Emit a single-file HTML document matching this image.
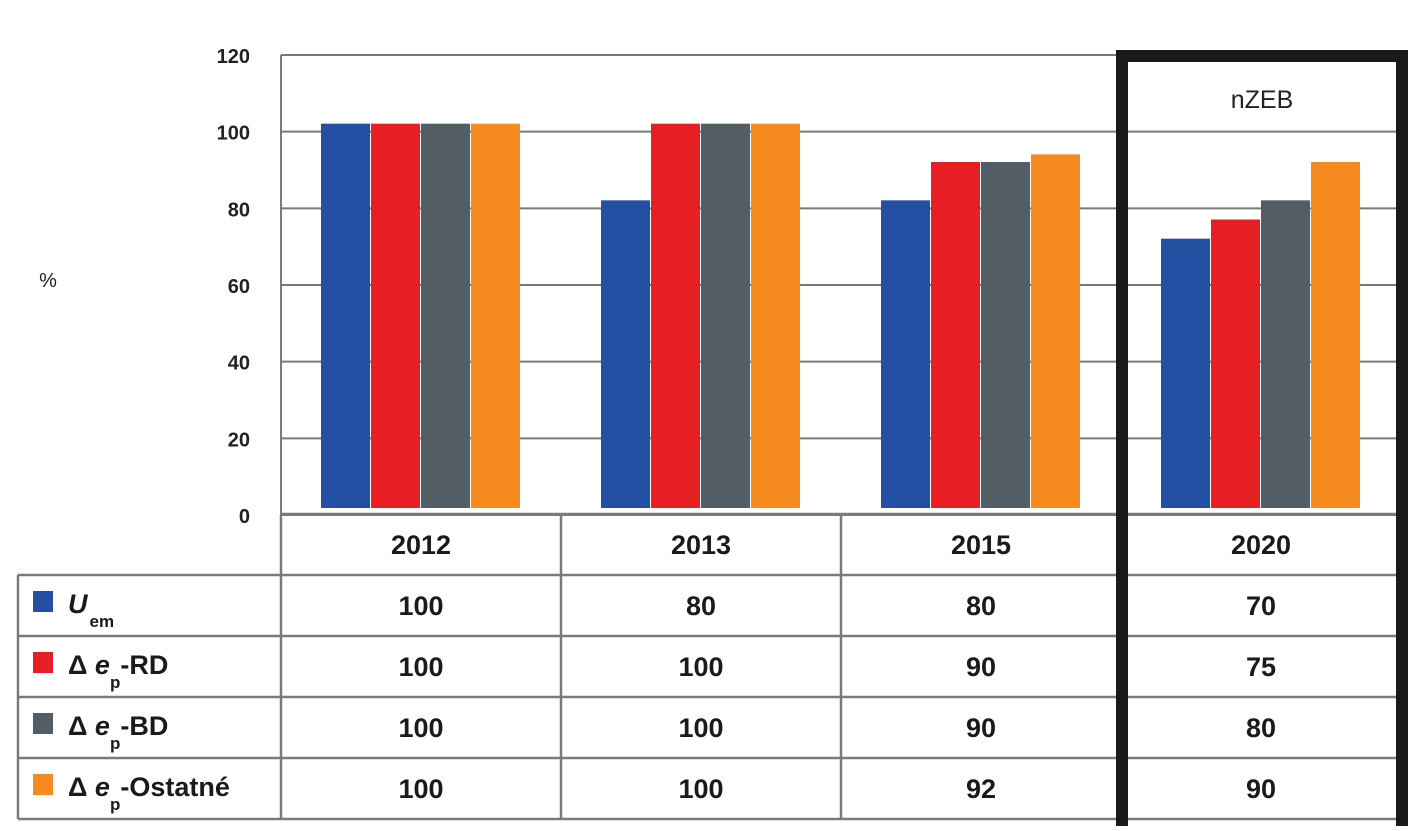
<!DOCTYPE html>
<html><head><meta charset="utf-8"><style>
body{margin:0;background:#fff;font-family:"Liberation Sans",sans-serif}
</style></head><body>
<svg width="1419" height="826" viewBox="0 0 1419 826" xmlns="http://www.w3.org/2000/svg">
<g id="grid"></g>
<g id="bars"></g>
<g id="table"></g>
<text x="48" y="287" font-size="20" text-anchor="middle" fill="#222">%</text>
<text x="1262" y="108" font-size="25" text-anchor="middle" fill="#222">nZEB</text>
<rect x="1122" y="56" width="280" height="776" fill="none" stroke="#1a1a1a" stroke-width="12"/>
</svg>
<script>
const categories=["2012","2013","2015","2020"];
const seriesNames=["Uem","RD","BD","Ostatné"];
const uem=[100,80,80,70];
const rd=[100,100,90,75];
const bd=[100,100,90,80];
const ost=[100,100,92,90];
const ticks=[0,20,40,60,80,100,120];
const NS="http://www.w3.org/2000/svg";
const series=[uem,rd,bd,ost];
const colors=["#2450a4","#e81e25","#525d66","#f58a1f"];
const x0=281,cw=280,y0=515,ppu=460/120;
const y=v=>y0-v*ppu;
function el(t,a,p){const e=document.createElementNS(NS,t);for(const k in a)e.setAttribute(k,a[k]);p.appendChild(e);return e;}
const grid=document.getElementById('grid');
ticks.forEach(t=>{
  const l=el('line',{x1:x0,x2:1400,y1:y(t),y2:y(t),stroke:'#7a7a7a','stroke-width':2},grid);
  
  
  const tx=el('text',{x:250,y:y(t)+8,'font-size':20,'font-weight':'bold','text-anchor':'end',fill:'#222'},grid);
  tx.textContent=t;
  
  
});
el('line',{x1:x0,x2:x0,y1:55,y2:y0,stroke:'#7a7a7a','stroke-width':2},grid);
const bars=document.getElementById('bars');
categories.forEach((c,i)=>{
  const cx=x0+cw*i+cw/2;
  series.forEach((s,j)=>{
    const bx=cx-100+j*50;
    const top=y(s[i])-8;
    const r=el('rect',{x:bx,y:top,width:49,height:508-top,fill:colors[j]},bars);
    
    
  });
});
const tb=document.getElementById('table');
const rows=[514,575,636,697,758,819];
const st={stroke:'#7a7a7a','stroke-width':2.5};
rows.forEach((ry,k)=>{el('line',Object.assign({x1:k==0?x0:18,x2:1400,y1:ry,y2:ry},st),tb);});
el('line',Object.assign({x1:18,x2:18,y1:575,y2:819},st),tb);
for(let i=0;i<=4;i++){el('line',Object.assign({x1:x0+cw*i,x2:x0+cw*i,y1:514,y2:819},st),tb);}
categories.forEach((c,i)=>{
  const t=el('text',{x:x0+cw*i+cw/2,y:554,'font-size':27,'font-weight':'bold','text-anchor':'middle',fill:'#1a1a1a'},tb);
  t.textContent=c;
  
  
  series.forEach((s,j)=>{
    const v=el('text',{x:x0+cw*i+cw/2,y:rows[j+1]+40,'font-size':27,'font-weight':'bold','text-anchor':'middle',fill:'#1a1a1a'},tb);
    v.textContent=s[i];
    
    
  });
});
const labels=[
 '<tspan font-style="italic">U</tspan><tspan font-size="17" dy="14" dx="2">em</tspan>',
 'Δ <tspan font-style="italic">e</tspan><tspan font-size="17" dy="14">p</tspan><tspan dy="-14">-RD</tspan>',
 'Δ <tspan font-style="italic">e</tspan><tspan font-size="17" dy="14">p</tspan><tspan dy="-14">-BD</tspan>',
 'Δ <tspan font-style="italic">e</tspan><tspan font-size="17" dy="14">p</tspan><tspan dy="-14">-Ostatné</tspan>'];
labels.forEach((h,j)=>{
  const sw=el('rect',{x:33,y:rows[j+1]+16,width:20,height:21,fill:colors[j]},tb);
  
  
  const t=el('text',{x:68,y:rows[j+1]+38,'font-size':27,'font-weight':'bold',fill:'#1a1a1a'},tb);
  t.innerHTML=h;
  
  
});
</script>
</body></html>
